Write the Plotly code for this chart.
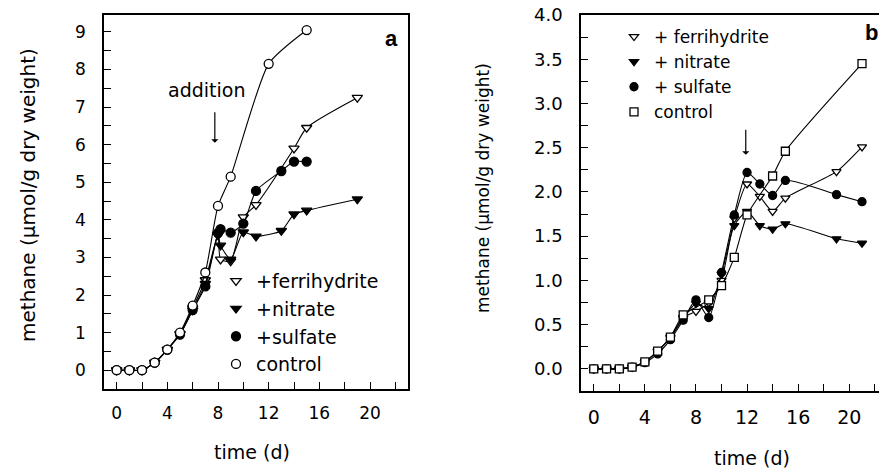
import plotly.graph_objects as go

# ---------------- Panel a data ----------------
a_ferri_x = [0, 1, 2, 3, 4, 5, 6, 7, 8, 8.2, 9, 10, 11, 14, 15, 19]
a_ferri_y = [0, 0, 0, 0.2, 0.55, 0.97, 1.65, 2.4, 3.6, 2.95, 2.9, 4.07, 4.4, 5.9, 6.45, 7.25]
a_nitr_x = [0, 1, 2, 3, 4, 5, 6, 7, 8, 8.2, 9, 10, 11, 13, 14, 15, 19]
a_nitr_y = [0, 0, 0, 0.2, 0.55, 0.95, 1.6, 2.3, 3.6, 3.32, 2.95, 3.67, 3.56, 3.71, 4.15, 4.25, 4.55]
a_sulf_x = [0, 1, 2, 3, 4, 5, 6, 7, 8, 8.2, 9, 10, 11, 13, 14, 15]
a_sulf_y = [0, 0, 0, 0.2, 0.55, 0.95, 1.6, 2.23, 3.65, 3.75, 3.66, 3.9, 4.77, 5.3, 5.55, 5.55]
a_ctrl_x = [0, 1, 2, 3, 4, 5, 6, 7, 8, 9, 12, 15]
a_ctrl_y = [0, 0, 0, 0.2, 0.55, 1.0, 1.72, 2.6, 4.37, 5.15, 8.15, 9.05]

# ---------------- Panel b data ----------------
b_ferri_x = [0, 1, 2, 3, 4, 5, 6, 7, 8, 9, 10, 11, 12, 13, 14, 15, 19, 21]
b_ferri_y = [0, 0, 0, 0.02, 0.08, 0.2, 0.36, 0.58, 0.65, 0.75, 1.0, 1.7, 2.09, 1.95, 1.78, 1.93, 2.23, 2.51]
b_nitr_x = [0, 1, 2, 3, 4, 5, 6, 7, 8, 9, 10, 11, 12, 13, 14, 15, 19, 21]
b_nitr_y = [0, 0, 0, 0.02, 0.08, 0.2, 0.35, 0.57, 0.74, 0.68, 1.07, 1.62, 1.78, 1.62, 1.58, 1.64, 1.47, 1.42]
b_sulf_x = [0, 1, 2, 3, 4, 5, 6, 7, 8, 9, 10, 11, 12, 13, 14, 15, 19, 21]
b_sulf_y = [0, 0, 0, 0.02, 0.07, 0.17, 0.33, 0.55, 0.78, 0.58, 1.09, 1.74, 2.22, 2.09, 1.96, 2.13, 1.97, 1.89]
b_ctrl_x = [0, 1, 2, 3, 4, 5, 6, 7, 9, 10, 11, 12, 14, 15, 21]
b_ctrl_y = [0, 0, 0, 0.02, 0.08, 0.2, 0.36, 0.61, 0.78, 0.94, 1.26, 1.74, 2.18, 2.46, 3.45]

a_names = ["+ferrihydrite", "+nitrate", "+sulfate", "control"]
b_names = ["+ ferrihydrite", "+ nitrate", "+ sulfate", "control"]

x_tickvals = [0, 4, 8, 12, 16, 20]
a_y_tickvals = [0, 1, 2, 3, 4, 5, 6, 7, 8, 9]
b_y_tickvals = [0.0, 0.5, 1.0, 1.5, 2.0, 2.5, 3.0, 3.5, 4.0]

FONT = "DejaVu Sans"
W, H = 879, 468

fig = go.Figure()

def add_series(xs, ys, name, symbol, filled, xa, ya, legend, size):
    fig.add_trace(go.Scatter(
        x=xs, y=ys, mode="lines", xaxis=xa, yaxis=ya, showlegend=False,
        line=dict(color="black", width=1.1, shape="spline", smoothing=0.6),
        hoverinfo="skip"))
    fig.add_trace(go.Scatter(
        x=xs, y=ys, mode="markers", xaxis=xa, yaxis=ya, name=name,
        legend=legend, showlegend=True,
        marker=dict(symbol=symbol, size=size,
                    color="black" if filled else "white",
                    line=dict(color="black", width=1.3))))

a_series = [(a_ferri_x, a_ferri_y, "triangle-down", False),
            (a_nitr_x, a_nitr_y, "triangle-down", True),
            (a_sulf_x, a_sulf_y, "circle", True),
            (a_ctrl_x, a_ctrl_y, "circle", False)]
for (xs, ys, sym, filled), nm in zip(a_series, a_names):
    add_series(xs, ys, nm, sym, filled, "x", "y", "legend", 9)

b_series = [(b_ferri_x, b_ferri_y, "triangle-down", False),
            (b_nitr_x, b_nitr_y, "triangle-down", True),
            (b_sulf_x, b_sulf_y, "circle", True),
            (b_ctrl_x, b_ctrl_y, "square", False)]
for (xs, ys, sym, filled), nm in zip(b_series, b_names):
    add_series(xs, ys, nm, sym, filled, "x2", "y2", "legend2", 8)

def px_x(p):
    return p / W

def px_y(p):
    return (H - p) / H

axis_common = dict(showline=True, linecolor="black", linewidth=1.5,
                   ticks="inside", ticklen=7, tickwidth=1.2, tickcolor="black",
                   showgrid=False, zeroline=False, automargin=False)

fig.update_layout(
    width=W, height=H,
    margin=dict(l=0, r=0, t=0, b=0),
    paper_bgcolor="white", plot_bgcolor="white",
    font=dict(family=FONT, color="black"),
    xaxis=dict(domain=[px_x(104), px_x(408)], range=[-1, 23], anchor="y",
               tickvals=x_tickvals, mirror=True,
               minor=dict(dtick=2, tick0=0, ticks="inside", ticklen=7, tickcolor="black", tickwidth=1.2),
               tickfont=dict(size=17), ticklabelstandoff=8, **axis_common),
    yaxis=dict(domain=[px_y(389), px_y(15)], range=[-0.5, 9.45], anchor="x",
               tickvals=a_y_tickvals, mirror=True,
               minor=dict(dtick=0.5, tick0=0, ticks="inside", ticklen=7, tickcolor="black", tickwidth=1.2),
               tickfont=dict(size=17), ticklabelstandoff=13, **axis_common),
    xaxis2=dict(domain=[px_x(581), 1.0], range=[-1, 22.33], anchor="y2",
                tickvals=x_tickvals, mirror=True,
                minor=dict(dtick=2, tick0=0, ticks="inside", ticklen=7, tickcolor="black", tickwidth=1.2),
                tickfont=dict(size=19), ticklabelstandoff=8, **axis_common),
    yaxis2=dict(domain=[px_y(391), px_y(15)], range=[-0.25, 4.0], anchor="x2",
                tickvals=b_y_tickvals, tickformat=".1f", mirror=False,
                minor=dict(dtick=0.25, tick0=0, ticks="inside", ticklen=7, tickcolor="black", tickwidth=1.2),
                tickfont=dict(size=18), ticklabelstandoff=13, **axis_common),
    legend=dict(x=px_x(216), y=px_y(262), xanchor="left", yanchor="top",
                bgcolor="rgba(0,0,0,0)", font=dict(size=19, family=FONT),
                tracegroupgap=0, itemwidth=30),
    legend2=dict(x=px_x(614), y=px_y(19), xanchor="left", yanchor="top",
                 bgcolor="rgba(0,0,0,0)", font=dict(size=17, family=FONT),
                 tracegroupgap=0, itemwidth=30),
)

ann = []
# axis titles
ann.append(dict(text="methane (µmol/g dry weight)", x=px_x(28), y=px_y(195), xref="paper", yref="paper",
                textangle=-90, showarrow=False, font=dict(size=20), xanchor="center", yanchor="middle"))
ann.append(dict(text="time (d)", x=px_x(252), y=px_y(452), xref="paper", yref="paper",
                showarrow=False, font=dict(size=19), xanchor="center", yanchor="middle"))
ann.append(dict(text="methane (µmol/g dry weight)", x=px_x(483), y=px_y(188), xref="paper", yref="paper",
                textangle=-90, showarrow=False, font=dict(size=17), xanchor="center", yanchor="middle"))
ann.append(dict(text="time (d)", x=px_x(752), y=px_y(458), xref="paper", yref="paper",
                showarrow=False, font=dict(size=19), xanchor="center", yanchor="middle"))
# panel labels
ann.append(dict(text="<b>a</b>", x=px_x(391), y=px_y(38), xref="paper", yref="paper",
                showarrow=False, font=dict(size=22, family="Liberation Sans"), xanchor="center", yanchor="middle"))
ann.append(dict(text="<b>b</b>", x=px_x(871), y=px_y(33), xref="paper", yref="paper",
                showarrow=False, font=dict(size=22, family="Liberation Sans"), xanchor="center", yanchor="middle"))
# addition text + arrows
ann.append(dict(text="addition", x=px_x(206), y=px_y(90), xref="paper", yref="paper",
                showarrow=False, font=dict(size=19), xanchor="center", yanchor="middle"))
ann.append(dict(text="", x=7.75, y=6.05, xref="x", yref="y", ax=7.75, ay=6.9, axref="x", ayref="y",
                showarrow=True, arrowhead=1, arrowsize=1, arrowwidth=1.2, arrowcolor="black"))
ann.append(dict(text="", x=11.9, y=2.42, xref="x2", yref="y2", ax=11.9, ay=2.72, axref="x2", ayref="y2",
                showarrow=True, arrowhead=1, arrowsize=1, arrowwidth=1.2, arrowcolor="black"))
fig.update_layout(annotations=ann)

fig.write_html("out.html")
